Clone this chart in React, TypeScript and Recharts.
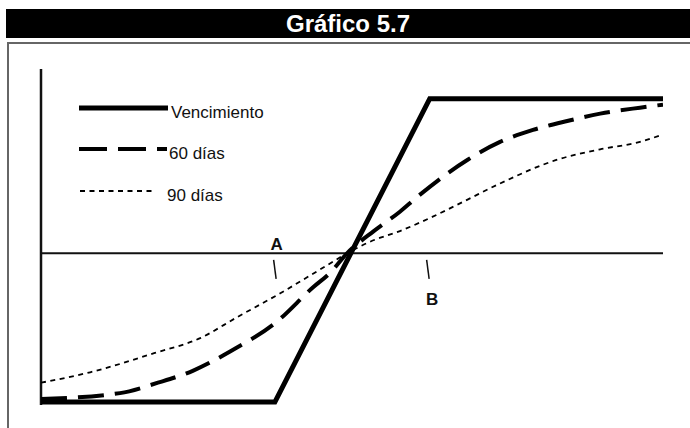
import React from 'react';
import {
  LineChart, Line, XAxis, YAxis, ReferenceLine, ReferenceDot, Legend
} from 'recharts';

const TITLE = 'Gráfico 5.7';
const SERIES_NAMES = ['Vencimiento', '60 días', '90 días'];

// x runs 0..100 along the horizontal axis, y is the payoff (0 = horizontal line)
const VENC_X = [0, 37.6, 62.5, 100];
const VENC_Y = [-100, -100, 104, 104];

const D60_X = [0, 12.7, 18.8, 24.4, 30.4, 37.9, 43.7, 46.5, 49.2, 53.5, 57.7, 60.5, 68.6, 73.8, 79.1, 84.6, 89.9, 96.3, 100];
const D60_Y = [-98, -94, -87, -79, -66, -46, -23, -13, 0, 15, 28, 38, 63, 75, 83, 89, 94, 98, 100];

const D90_X = [0, 7.9, 18.3, 25.6, 31.5, 38.4, 46, 49.2, 53, 57.7, 62.9, 68.5, 73.8, 83, 89.9, 96.3, 100];
const D90_Y = [-87, -80, -67, -57, -43, -27, -8, 0, 8, 15, 24.5, 36, 47, 63, 70, 75, 80];

// annotation letters and their small tick marks
const MARK_LABELS = ['A', 'B'];
const MARK_LABEL_X = [37.9, 62.9];
const MARK_LABEL_Y = [6.5, -30.5];
const MARK_TICK_X = [[37.4, 37.8], [62.0, 62.4]];
const MARK_TICK_Y = [[-4.4, -17.2], [-4.4, -17.2]];

const toRows = (xs: number[], ys: number[]) => xs.map((x, i) => ({ x, y: ys[i] }));

const SERIES = [
  { name: SERIES_NAMES[0], data: toRows(VENC_X, VENC_Y), width: 5, dash: undefined, type: 'linear' },
  { name: SERIES_NAMES[1], data: toRows(D60_X, D60_Y), width: 4, dash: '26 11', type: 'monotone' },
  { name: SERIES_NAMES[2], data: toRows(D90_X, D90_Y), width: 1.8, dash: '5 4.5', type: 'monotone' },
];

const FONT = '"Liberation Sans", Arial, sans-serif';

const legendRows = [
  { y: 108, x1: 79, x2: 168, tx: 171, dash: undefined, w: 5 },
  { y: 149, x1: 79, x2: 167, tx: 169, dash: '28 11', w: 4 },
  { y: 191, x1: 80, x2: 155, tx: 167, dash: '5 4.5', w: 1.8 },
];

const renderLegend = () => (
  <svg width={320} height={220} style={{ display: 'block' }}>
    {SERIES.map((s, i) => {
      const r = legendRows[i];
      return (
        <g key={s.name}>
          <line x1={r.x1} x2={r.x2} y1={r.y} y2={r.y} stroke="#000" strokeWidth={r.w} strokeDasharray={r.dash} />
          <text x={r.tx} y={r.y + 10} fontFamily={FONT} fontSize={17} fill="#111">{s.name}</text>
        </g>
      );
    })}
  </svg>
);

export default function App() {
  return (
    <div style={{ position: 'fixed', left: 0, top: 0, width: 690, height: 428, background: '#fff', overflow: 'hidden' }}>
      <div style={{
        position: 'absolute', left: 6, top: 9, width: 684, height: 29, background: '#000',
        color: '#fff', fontFamily: FONT, fontWeight: 900, fontSize: 24, lineHeight: '30px', textAlign: 'center'
      }}>
        {TITLE}
      </div>
      <div style={{
        position: 'absolute', left: 7, top: 42, width: 720, height: 420,
        borderTop: '2px solid #666', borderLeft: '2px solid #666'
      }} />
      <div style={{ position: 'absolute', left: 0, top: 0 }}>
        <LineChart width={690} height={428} margin={{ top: 69, right: 27, bottom: 23, left: 41 }}>
          <XAxis type="number" dataKey="x" domain={[0, 100]} hide allowDataOverflow />
          <YAxis type="number" domain={[-102, 124]} hide allowDataOverflow />
          <ReferenceLine x={0} stroke="#111" strokeWidth={2.5} />
          <ReferenceLine y={0} stroke="#111" strokeWidth={2} />
          {MARK_LABELS.map((m, i) => (
            <ReferenceLine key={'t' + m}
              segment={[{ x: MARK_TICK_X[i][0], y: MARK_TICK_Y[i][0] }, { x: MARK_TICK_X[i][1], y: MARK_TICK_Y[i][1] }]}
              stroke="#111" strokeWidth={1.5} />
          ))}
          {MARK_LABELS.map((m, i) => (
            <ReferenceDot key={'l' + m} x={MARK_LABEL_X[i]} y={MARK_LABEL_Y[i]} r={0} stroke="none" fill="none"
              label={{ value: m, position: 'center', fontFamily: FONT, fontWeight: 700, fontSize: 17, fill: '#111' }} />
          ))}
          {SERIES.map((s) => (
            <Line key={s.name} data={s.data} dataKey="y" name={s.name} type={s.type as any}
              stroke="#000" strokeWidth={s.width} strokeDasharray={s.dash} dot={false}
              isAnimationActive={false} strokeLinecap="butt" />
          ))}
          <Legend layout="vertical" align="center" verticalAlign="middle"
            wrapperStyle={{ left: 0, top: 0, width: 320, height: 220 }} content={renderLegend} />
        </LineChart>
      </div>
    </div>
  );
}
